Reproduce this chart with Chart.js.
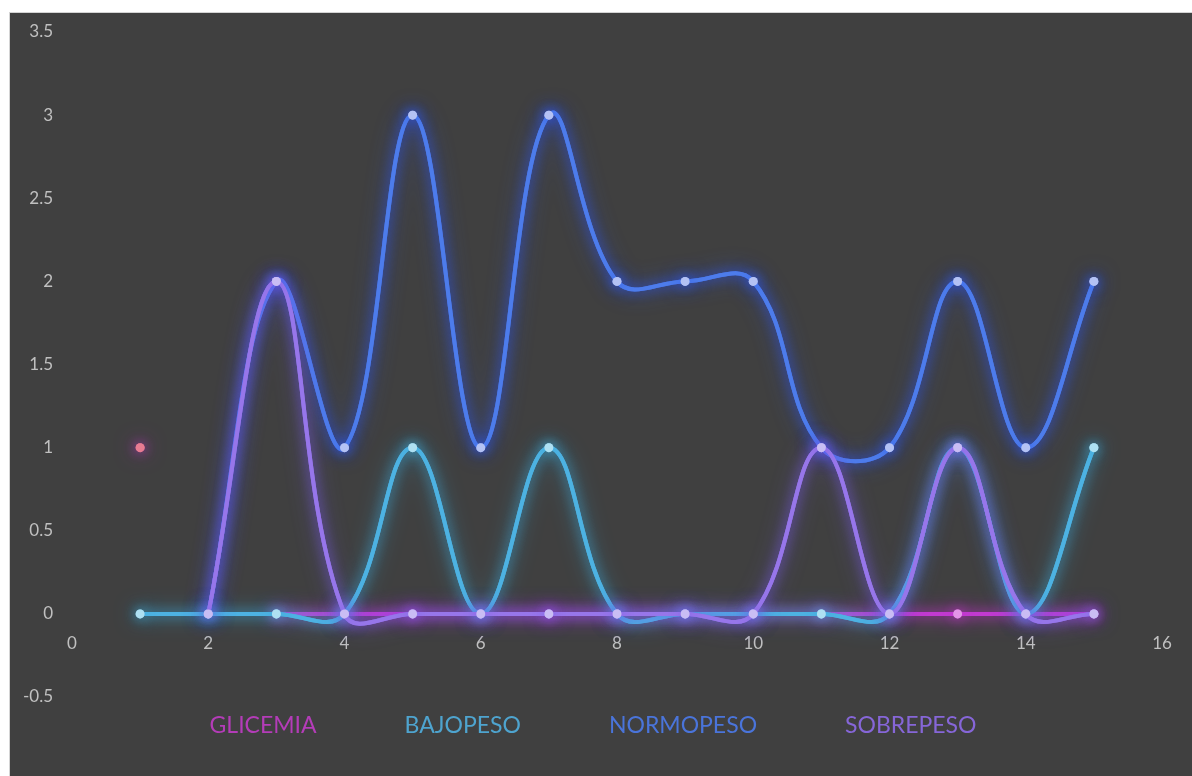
<!DOCTYPE html>
<html>
<head>
<meta charset="utf-8">
<script src="https://cdn.jsdelivr.net/npm/chart.js@4/dist/chart.umd.min.js"></script>
<style>
  html, body { margin: 0; padding: 0; background: #ffffff; }
  #frame {
    position: absolute; left: 9px; top: 12px;
    width: 1182px; height: 763px;
    border-left: 1px solid #d4d4d4; border-top: 1px solid #d4d4d4;
    background: #404040;
  }
  canvas { display: block; }
</style>
</head>
<body>
<div id="frame"><canvas id="chart" width="1182" height="763"></canvas></div>
<script>
// Case number along the x axis
const xValues   = [1, 2, 3, 4, 5, 6, 7, 8, 9, 10, 11, 12, 13, 14, 15];
// Counts per series (null = no value for that case)
const glicemia  = [1, null, 0, 0, 0, 0, 0, 0, 0, 0, 0, 0, 0, 0, 0];
const bajopeso  = [0, 0, 0, 0, 1, 0, 1, 0, 0, 0, 0, 0, 1, 0, 1];
const normopeso = [null, 0, 2, 1, 3, 1, 3, 2, 2, 2, 1, 1, 2, 1, 2];
const sobrepeso = [null, 0, 2, 0, 0, 0, 0, 0, 0, 0, 1, 0, 1, 0, 0];
const seriesNames = ['GLICEMIA', 'BAJOPESO', 'NORMOPESO', 'SOBREPESO'];
// Axis ranges
const xAxis = { min: 0, max: 16, step: 2 };
const yAxis = { min: -0.5, max: 3.5, step: 0.5 };

function toPoints(values) {
  return xValues.map((x, i) => ({ x: x, y: values[i] }));
}

// Soft neon halo behind each series: the dataset is drawn once more
// with a wide shadow underneath the normal pass.
const glowPlugin = {
  id: 'glow',
  beforeDatasetDraw(chart, args) {
    const ds = chart.data.datasets[args.index];
    const ctx = chart.ctx;
    ctx.save();
    ctx.shadowColor = ds.glowColor;
    ctx.shadowBlur = ds.glowBlur * 1.8;
    args.meta.controller.draw();
    ctx.restore();
    ctx.save();
    ctx.shadowColor = ds.glowColor;
    ctx.shadowBlur = ds.glowBlur;
  },
  afterDatasetDraw(chart) {
    chart.ctx.restore();
  }
};

// Text-only legend under the plot, one coloured word per series
const textLegend = {
  id: 'textLegend',
  afterDraw(chart, args, opts) {
    const ctx = chart.ctx;
    ctx.save();
    ctx.font = opts.font;
    ctx.textBaseline = 'middle';
    ctx.textAlign = 'left';
    const items = chart.data.datasets.map(ds => ({
      text: ds.label, color: ds.legendColor, w: ctx.measureText(ds.label).width
    }));
    const total = items.reduce((s, it) => s + it.w, 0) + opts.gap * (items.length - 1);
    let x = opts.centerX - total / 2;
    items.forEach(it => {
      ctx.fillStyle = it.color;
      ctx.fillText(it.text, x, opts.y);
      x += it.w + opts.gap;
    });
    ctx.restore();
  }
};

const tickFont = { family: 'Lato, "Open Sans", sans-serif', size: 17 };

const datasets = [
  {
    label: seriesNames[0], data: toPoints(glicemia), order: 3,
    borderColor: '#c23ad0', legendColor: '#b43cb8',
    pointBackgroundColor: ctx => ctx.dataIndex === 0 ? '#e77c92' : '#e494e8',
    glowColor: 'rgba(200, 50, 210, 0.85)', glowBlur: 12
  },
  {
    label: seriesNames[1], data: toPoints(bajopeso), order: 1,
    borderColor: '#4db2e2', legendColor: '#4ea4cf',
    pointBackgroundColor: '#aee0f2',
    glowColor: 'rgba(60, 170, 220, 0.85)', glowBlur: 12
  },
  {
    label: seriesNames[2], data: toPoints(normopeso), order: 2,
    borderColor: '#4d7ceb', legendColor: '#4a74da',
    pointBackgroundColor: '#b4c2f4',
    glowColor: 'rgba(45, 85, 240, 0.9)', glowBlur: 12
  },
  {
    label: seriesNames[3], data: toPoints(sobrepeso), order: 0,
    borderColor: '#9776ea', legendColor: '#8666d8',
    pointBackgroundColor: '#c9bdf4',
    glowColor: 'rgba(120, 90, 235, 0.85)', glowBlur: 12
  }
];

datasets.forEach(ds => {
  Object.assign(ds, {
    showLine: true, spanGaps: false, tension: 0.4, borderWidth: 4,
    pointRadius: 4.5, pointBorderWidth: 0, clip: false
  });
});

new Chart(document.getElementById('chart'), {
  type: 'scatter',
  data: { datasets: datasets },
  options: {
    responsive: false,
    animation: false,
    events: [],
    layout: { padding: { left: 0, right: 30, top: 19, bottom: 79 } },
    plugins: {
      legend: { display: false },
      tooltip: { enabled: false },
      textLegend: { font: '23px Lato, "Open Sans", sans-serif', gap: 88, centerX: 583, y: 713 }
    },
    scales: {
      x: {
        type: 'linear', position: { y: 0 },
        min: xAxis.min, max: xAxis.max,
        ticks: { stepSize: xAxis.step, color: '#c0c0c0', font: tickFont, padding: 19 },
        grid: { display: false, drawTicks: false },
        border: { display: false },
        afterFit(scale) { scale.height = 0; }
      },
      y: {
        type: 'linear', position: 'left',
        min: yAxis.min, max: yAxis.max,
        ticks: {
          stepSize: yAxis.step, color: '#c0c0c0', font: tickFont, padding: 19,
          callback: v => String(Math.round(v * 10) / 10)
        },
        grid: { display: false, drawTicks: false },
        border: { display: false },
        afterFit(scale) {
          scale.width = 62;
          // tick padding is meant horizontally only
          scale.paddingTop = 10;
          scale.paddingBottom = 10;
        }
      }
    }
  },
  plugins: [glowPlugin, textLegend]
});
</script>
</body>
</html>
